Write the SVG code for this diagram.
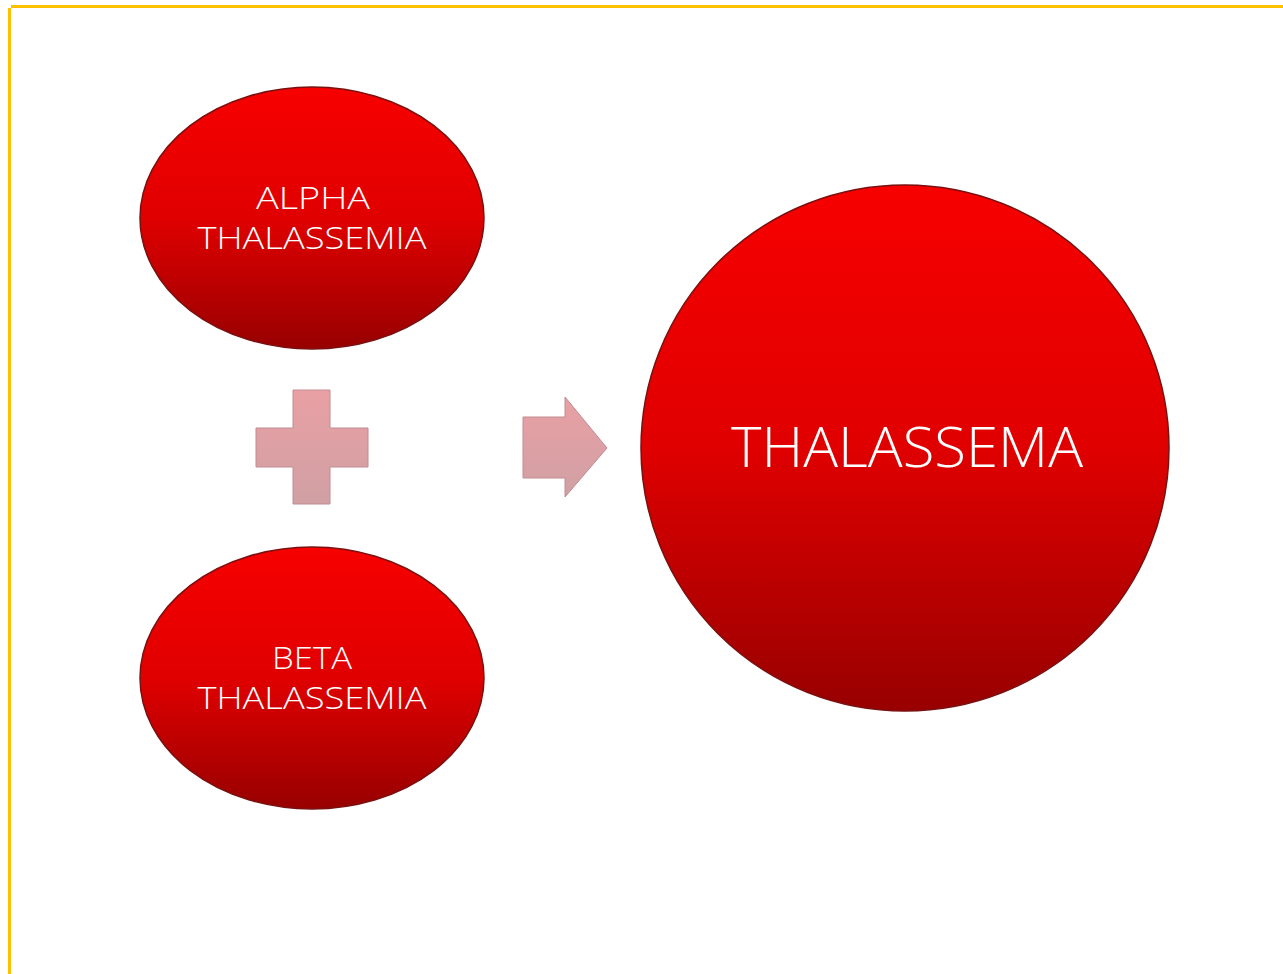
<svg xmlns="http://www.w3.org/2000/svg" width="1283" height="974" viewBox="0 0 1283 974">
<defs>
<linearGradient id="red" x1="0" y1="0" x2="0" y2="1">
<stop offset="0" stop-color="#f70000"/>
<stop offset="0.5" stop-color="#e00000"/>
<stop offset="1" stop-color="#980000"/>
</linearGradient>
<linearGradient id="pink" x1="0" y1="0" x2="0" y2="1">
<stop offset="0" stop-color="#e9a0a4"/>
<stop offset="1" stop-color="#d0a0a4"/>
</linearGradient>
<style>
.node{fill:url(#red);stroke:#7a1010;stroke-width:1.5}
.lbl{fill:#ffffff;font-family:"Open Sans","Liberation Sans",sans-serif;font-weight:300;text-anchor:middle}
.op{fill:url(#pink);stroke:#c08c90;stroke-width:1}
</style>
</defs>
<rect width="1283" height="974" fill="#ffffff"/>
<g id="border" fill="#ffc000">
<rect x="11" y="5" width="1272" height="3"/>
<rect x="8" y="8" width="3" height="966"/>
</g>
<g id="alpha">
<ellipse class="node" cx="312" cy="218" rx="172" ry="131"/>
<text class="lbl" x="313" y="209" font-size="32" textLength="114" lengthAdjust="spacingAndGlyphs">ALPHA</text>
<text class="lbl" x="312" y="249" font-size="32" textLength="229" lengthAdjust="spacingAndGlyphs">THALASSEMIA</text>
</g>
<g id="beta">
<ellipse class="node" cx="312" cy="678" rx="172" ry="131"/>
<text class="lbl" x="312" y="669" font-size="32" textLength="80" lengthAdjust="spacingAndGlyphs">BETA</text>
<text class="lbl" x="312" y="709" font-size="32" textLength="229" lengthAdjust="spacingAndGlyphs">THALASSEMIA</text>
</g>
<g id="thalassema">
<ellipse class="node" cx="905" cy="448" rx="264" ry="263"/>
<text class="lbl" x="907" y="467" font-size="56" textLength="352" lengthAdjust="spacingAndGlyphs">THALASSEMA</text>
</g>
<g id="connectors">
<path class="op" d="M293,390 H330 V428 H368 V467 H330 V504 H293 V467 H256 V428 H293 Z"/>
<path class="op" d="M523,417 H565 V397 L607,448 L565,497 V478 H523 Z"/>
</g>
</svg>
